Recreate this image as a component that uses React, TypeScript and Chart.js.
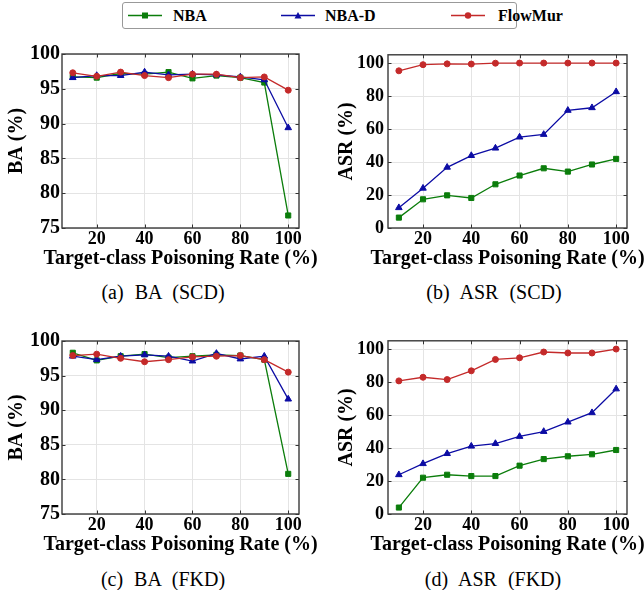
import React, { useEffect, useRef } from "react";
import { Chart, registerables } from "chart.js";

Chart.register(...registerables);

// ---------------- data ----------------
const poisonRates = [10, 20, 30, 40, 50, 60, 70, 80, 90, 100];
const xTickValues = [20, 40, 60, 80, 100];
const baTickValues = [75, 80, 85, 90, 95, 100];
const asrTickValues = [0, 20, 40, 60, 80, 100];

const seriesNames = ["NBA", "NBA-D", "FlowMur"];
const xAxisTitle = "Target-class Poisoning Rate (%)";

// (a) BA (SCD)
const scdBaNBA = [96.7, 96.6, 97.2, 97.1, 97.4, 96.5, 96.9, 96.6, 95.9, 76.8];
const scdBaNBAD = [96.6, 96.9, 96.9, 97.4, 97.0, 97.1, 97.0, 96.7, 96.3, 89.4];
const scdBaFlowMur = [97.3, 96.8, 97.4, 96.9, 96.6, 97.1, 97.1, 96.6, 96.7, 94.8];

// (b) ASR (SCD)
const scdAsrNBA = [6.3, 17.4, 19.8, 18.2, 26.5, 31.8, 36.2, 34.2, 38.5, 41.9];
const scdAsrNBAD = [12.3, 24.1, 36.8, 43.9, 48.4, 55.1, 56.7, 71.3, 72.9, 82.6];
const scdAsrFlowMur = [95.3, 99.0, 99.5, 99.4, 99.9, 100, 100, 100, 100, 100];

// (c) BA (FKD)
const fkdBaNBA = [98.3, 97.2, 97.8, 98.1, 97.6, 97.8, 98.0, 97.9, 97.3, 80.8];
const fkdBaNBAD = [97.8, 97.3, 97.8, 98.0, 97.8, 97.1, 98.2, 97.4, 97.8, 91.6];
const fkdBaFlowMur = [97.9, 98.1, 97.5, 97.0, 97.3, 97.7, 97.8, 97.9, 97.3, 95.5];

// (d) ASR (FKD)
const fkdAsrNBA = [3.9, 22.0, 23.8, 23.0, 23.0, 29.3, 33.3, 35.0, 36.2, 38.8];
const fkdAsrNBAD = [23.8, 30.5, 36.6, 41.1, 42.7, 47.0, 50.0, 55.7, 61.4, 75.8];
const fkdAsrFlowMur = [80.7, 82.9, 81.5, 86.8, 93.7, 94.7, 98.2, 97.6, 97.6, 100];

// ---------------- styles ----------------
const COLORS = ["#0b7d0b", "#0c0ca4", "#c42a2a"];
const SHAPES = ["rect", "triangle", "circle"];
const RADII = [3.6, 3.8, 3.0];
const FONT = "'Liberation Serif', 'Times New Roman', serif";

const framePlugin = {
  id: "frame",
  afterDatasetsDraw(chart: any) {
    const { ctx, chartArea } = chart;
    const { left, right, top, bottom } = chartArea;
    const xs = chart.scales.x;
    const ys = chart.scales.y;
    ctx.save();
    ctx.strokeStyle = "#333";
    ctx.lineWidth = 1;
    const tl = 3.5;
    ctx.beginPath();
    xs.ticks.forEach((t: any) => {
      const px = Math.round(xs.getPixelForValue(t.value)) + 0.5;
      ctx.moveTo(px, bottom);
      ctx.lineTo(px, bottom - tl);
      ctx.moveTo(px, top);
      ctx.lineTo(px, top + tl);
    });
    ys.ticks.forEach((t: any) => {
      const py = Math.round(ys.getPixelForValue(t.value)) + 0.5;
      ctx.moveTo(left, py);
      ctx.lineTo(left + tl, py);
      ctx.moveTo(right, py);
      ctx.lineTo(right - tl, py);
    });
    ctx.stroke();
    ctx.lineWidth = 1.4;
    ctx.strokeStyle = "#3a3a3a";
    ctx.strokeRect(left, top, right - left, bottom - top);
    ctx.restore();
  },
};

type PanelProps = {
  left: number;
  top: number;
  width: number;
  height: number;
  padLeftAxis: number;
  padTop: number;
  padRight: number;
  xAxisHeight: number;
  yTitle: string;
  yTitleOffset: number;
  yTickSize: number;
  yTickPad: number;
  yMin: number;
  yMax: number;
  yTicks: number[];
  series: number[][];
};

function Panel(p: PanelProps) {
  const ref = useRef<HTMLCanvasElement | null>(null);
  useEffect(() => {
    if (!ref.current) return;
    const titlePlugin = {
      id: "axisTitles",
      afterDraw(chart: any) {
        const { ctx, chartArea } = chart;
        ctx.save();
        ctx.fillStyle = "#000";
        ctx.font = `bold 20px ${FONT}`;
        ctx.textAlign = "center";
        ctx.textBaseline = "alphabetic";
        ctx.fillText(xAxisTitle, (chartArea.left + chartArea.right) / 2, chartArea.bottom + 36);
        ctx.translate(chartArea.left + p.yTitleOffset, (chartArea.top + chartArea.bottom) / 2);
        ctx.rotate(-Math.PI / 2);
        ctx.fillText(p.yTitle, 0, 0);
        ctx.restore();
      },
    };
    const datasets = p.series.map((vals, i) => ({
      label: seriesNames[i],
      data: poisonRates.map((x, j) => ({ x, y: vals[j] })),
      borderColor: COLORS[i],
      backgroundColor: COLORS[i],
      pointBackgroundColor: COLORS[i],
      pointBorderColor: COLORS[i],
      pointStyle: SHAPES[i],
      pointRadius: RADII[i],
      pointBorderWidth: 1,
      borderWidth: 1.3,
      tension: 0,
      order: 2 - i,
    }));
    const chart = new Chart(ref.current, {
      type: "line",
      data: { datasets },
      plugins: [framePlugin, titlePlugin],
      options: {
        animation: false,
        responsive: false,
        devicePixelRatio: 1,
        layout: { padding: { left: 0, top: p.padTop, right: p.padRight, bottom: 0 } },
        plugins: { legend: { display: false }, tooltip: { enabled: false } },
        scales: {
          x: {
            type: "linear",
            min: 5.5,
            max: 104.5,
            afterBuildTicks: (s: any) => {
              s.ticks = xTickValues.map((v) => ({ value: v }));
            },
            afterFit: (s: any) => {
              s.height = p.xAxisHeight;
            },
            grid: { color: "#e4e4e4", lineWidth: 1, drawTicks: false },
            border: { display: false },
            ticks: {
              padding: 1,
              color: "#000",
              font: { family: FONT, size: 18, weight: "bold" },
              maxRotation: 0,
              autoSkip: false,
            },
            title: { display: false },
          },
          y: {
            type: "linear",
            min: p.yMin,
            max: p.yMax,
            afterBuildTicks: (s: any) => {
              s.ticks = p.yTicks.map((v) => ({ value: v }));
            },
            afterFit: (s: any) => {
              s.width = p.padLeftAxis;
            },
            grid: { color: "#e4e4e4", lineWidth: 1, drawTicks: false },
            border: { display: false },
            ticks: {
              padding: p.yTickPad,
              color: "#000",
              font: { family: FONT, size: p.yTickSize, weight: "bold" },
              autoSkip: false,
            },
            title: { display: false },
          },
        },
      } as any,
    });
    return () => chart.destroy();
  }, []);
  return (
    <canvas
      ref={ref}
      width={p.width}
      height={p.height}
      style={{ position: "absolute", left: p.left, top: p.top, width: p.width, height: p.height }}
    />
  );
}

function Caption({ text, cx, cy }: { text: string; cx: number; cy: number }) {
  return (
    <div
      style={{
        position: "absolute",
        left: cx - 100,
        top: cy - 12,
        width: 200,
        height: 24,
        lineHeight: "24px",
        textAlign: "center",
        fontFamily: FONT,
        fontSize: 20,
        wordSpacing: 6,
        color: "#000",
        whiteSpace: "nowrap",
      }}
    >
      {text}
    </div>
  );
}

function LegendMarker({ i }: { i: number }) {
  const c = COLORS[i];
  let marker: React.ReactNode = null;
  if (i === 0) marker = <rect x={14} y={6.5} width={6} height={6} fill={c} />;
  else if (i === 1) marker = <polygon points="17,6 20.5,12.5 13.5,12.5" fill={c} />;
  else marker = <circle cx={17} cy={9.5} r={3.2} fill={c} />;
  return (
    <svg width={34} height={19} style={{ display: "block" }}>
      <line x1={0} y1={9.5} x2={34} y2={9.5} stroke={c} strokeWidth={1.4} />
      {marker}
    </svg>
  );
}

function Legend() {
  const items = [
    { i: 0, mx: 127, tx: 172 },
    { i: 1, mx: 280, tx: 324 },
    { i: 2, mx: 450, tx: 497 },
  ];
  return (
    <div
      style={{
        position: "absolute",
        left: 122,
        top: 2,
        width: 395,
        height: 27,
        border: "1px solid #999",
        borderRadius: 3,
        boxSizing: "border-box",
        background: "#fff",
      }}
    >
      {items.map((it) => (
        <React.Fragment key={it.i}>
          <div style={{ position: "absolute", left: it.mx - 122, top: 3 }}>
            <LegendMarker i={it.i} />
          </div>
          <div
            style={{
              position: "absolute",
              left: it.tx - 122,
              top: 3,
              height: 19,
              lineHeight: "19px",
              fontFamily: FONT,
              fontWeight: "bold",
              fontSize: 16,
              color: "#000",
              whiteSpace: "nowrap",
            }}
          >
            {seriesNames[it.i]}
          </div>
        </React.Fragment>
      ))}
    </div>
  );
}

export default function App() {
  return (
    <div
      style={{
        position: "fixed",
        left: 0,
        top: 0,
        width: 644,
        height: 590,
        background: "#fff",
        overflow: "hidden",
      }}
    >
      <Legend />
      <Panel
        left={0}
        top={40}
        width={320}
        height={240}
        padLeftAxis={62}
        padTop={10}
        padRight={21}
        xAxisHeight={52}
        yTitle="BA (%)"
        yTitleOffset={-40}
        yTickSize={20}
        yTickPad={2}
        yMin={75}
        yMax={100}
        yTicks={baTickValues}
        series={[scdBaNBA, scdBaNBAD, scdBaFlowMur]}
      />
      <Panel
        left={320}
        top={40}
        width={324}
        height={240}
        padLeftAxis={68}
        padTop={11}
        padRight={17}
        xAxisHeight={52}
        yTitle="ASR (%)"
        yTitleOffset={-36}
        yTickSize={18}
        yTickPad={4}
        yMin={0}
        yMax={105}
        yTicks={asrTickValues}
        series={[scdAsrNBA, scdAsrNBAD, scdAsrFlowMur]}
      />
      <Panel
        left={0}
        top={327}
        width={320}
        height={240}
        padLeftAxis={62}
        padTop={10}
        padRight={21}
        xAxisHeight={53}
        yTitle="BA (%)"
        yTitleOffset={-40}
        yTickSize={20}
        yTickPad={2}
        yMin={75}
        yMax={100}
        yTicks={baTickValues}
        series={[fkdBaNBA, fkdBaNBAD, fkdBaFlowMur]}
      />
      <Panel
        left={320}
        top={326}
        width={324}
        height={240}
        padLeftAxis={68}
        padTop={10}
        padRight={17}
        xAxisHeight={52}
        yTitle="ASR (%)"
        yTitleOffset={-36}
        yTickSize={18}
        yTickPad={4}
        yMin={0}
        yMax={105}
        yTicks={asrTickValues}
        series={[fkdAsrNBA, fkdAsrNBAD, fkdAsrFlowMur]}
      />
      <Caption text="(a) BA (SCD)" cx={163} cy={292} />
      <Caption text="(b) ASR (SCD)" cx={494} cy={292} />
      <Caption text="(c) BA (FKD)" cx={163} cy={579} />
      <Caption text="(d) ASR (FKD)" cx={493} cy={579} />
    </div>
  );
}
